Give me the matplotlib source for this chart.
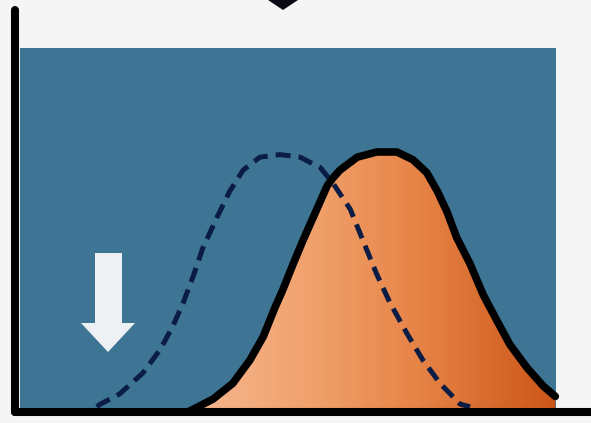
import numpy as np
import matplotlib
matplotlib.use("Agg")
import matplotlib.pyplot as plt
from matplotlib.patches import Rectangle, Polygon
from matplotlib.colors import LinearSegmentedColormap

# shifted (new) distribution - orange filled curve
new_x = [30.0, 30.9, 34.4, 37.8, 40.8, 43.1, 45.1, 46.5, 48.3, 50.0, 52.4, 54.2,
         55.2, 56.4, 59.4, 62.8, 66.3, 69.1, 71.5, 73.3, 75.0, 76.7, 79.0, 81.3,
         83.7, 85.9, 88.9, 91.7, 93.8]
new_y = [0.00, 0.01, 0.05, 0.11, 0.20, 0.29, 0.40, 0.47, 0.57, 0.66, 0.78, 0.87,
         0.90, 0.93, 0.98, 1.00, 1.00, 0.97, 0.92, 0.85, 0.77, 0.67, 0.57, 0.45,
         0.35, 0.26, 0.17, 0.10, 0.06]

# original distribution - dashed curve
old_x = [14.2, 14.8, 18.2, 22.2, 25.2, 27.4, 29.2, 30.9, 32.6, 35.1, 37.3, 39.6,
         42.5, 46.0, 49.5, 53.0, 55.2, 58.2, 60.4, 62.8, 65.1, 68.1, 70.8, 73.8,
         77.3, 79.0]
old_y = [0.02, 0.03, 0.07, 0.15, 0.24, 0.33, 0.42, 0.52, 0.63, 0.75, 0.85, 0.93,
         0.98, 0.99, 0.98, 0.94, 0.88, 0.78, 0.66, 0.53, 0.42, 0.30, 0.20, 0.11,
         0.03, 0.02]

W, H = 591, 423
fig = plt.figure(figsize=(W / 100, H / 100), dpi=100)
fig.patch.set_facecolor("#f5f5f5")

ax = fig.add_axes([15 / W, (H - 412) / H, (W - 15) / W, (412 - 10) / H])
ax.set_xlim(0, 100)
ax.set_ylim(0, 1.546)
ax.set_facecolor("none")
for s in ("top", "right"):
    ax.spines[s].set_visible(False)
for s in ("left", "bottom"):
    ax.spines[s].set_linewidth(5.8)
    ax.spines[s].set_color("black")
    ax.spines[s].set_capstyle("round")
ax.set_xticks([])
ax.set_yticks([])

# blue panel
ax.add_patch(Rectangle((0.9, 0), 93.0, 1.40, facecolor="#3e7594",
                       edgecolor="none", zorder=0))

# gradient fill under the new curve
cmap = LinearSegmentedColormap.from_list(
    "org", [(0.0, "#f6b890"), (0.35, "#f0a06a"), (0.6, "#e8864a"), (1.0, "#cc5618")])
grad = np.linspace(0, 1, 256).reshape(1, -1)
im = ax.imshow(grad, extent=[new_x[0], new_x[-1], 0, 1.05], aspect="auto",
               cmap=cmap, zorder=1, interpolation="bilinear")
poly = Polygon(list(zip(new_x, new_y)) + [(new_x[-1], 0), (new_x[0], 0)],
               closed=True, transform=ax.transData, facecolor="none", edgecolor="none")
ax.add_patch(poly)
im.set_clip_path(poly)

# dashed old curve
ax.plot(old_x, old_y, color="#0b1d44", lw=3.6, dashes=(3.0, 1.6), zorder=2,
        solid_capstyle="butt")
# outline of new curve
ax.plot(new_x, new_y, color="black", lw=5.5, zorder=3,
        solid_joinstyle="round", solid_capstyle="round")

# white down arrow (figure pixel coordinates)
def px(x, y):
    return (x / W, 1 - y / H)

arrow_pts = [px(95, 253), px(122, 253), px(122, 323), px(135, 323), px(108, 352),
             px(81, 323), px(95, 323)]
fig.patches.append(Polygon(arrow_pts, closed=True, transform=fig.transFigure,
                           facecolor="#eef1f4", edgecolor="none", zorder=5))

# top arrowhead (cut off)
top_pts = [px(268, 0), px(298, 0), px(283, 10)]
fig.patches.append(Polygon(top_pts, closed=True, transform=fig.transFigure,
                           facecolor="#0a0a14", edgecolor="none", zorder=5))

fig.savefig("out.png", dpi=100, facecolor=fig.get_facecolor())
